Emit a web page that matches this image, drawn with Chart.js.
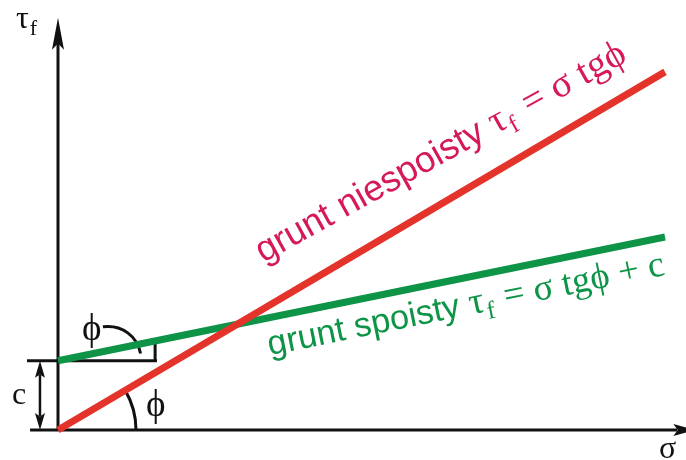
<!DOCTYPE html>
<html>
<head>
<meta charset="utf-8">
<script src="https://cdn.jsdelivr.net/npm/chart.js@4/dist/chart.umd.min.js"></script>
<style>
html,body{margin:0;padding:0;background:#fff;}
#c{display:block;}
</style>
</head>
<body>
<canvas id="c" width="686" height="460"></canvas>
<script>
// ---- data (schematic Mohr–Coulomb envelopes) ----
const sigma = [0, 10];                 // normal stress σ
const tauNonCohesive = [0, 5.9];       // grunt niespoisty: τf = σ tgφ
const tauCohesive = [1.14, 3.18];      // grunt spoisty:   τf = σ tgφ + c
const cohesion = tauCohesive[0];       // c

const RED = '#e3332a', GREEN = '#0e9447', RED_TXT = '#d6195a', GREEN_TXT = '#0e9447', INK = '#111111';
const SANS = '"Liberation Sans", Arial, sans-serif';
const SERIF = '"Liberation Serif", "Times New Roman", serif';

function toPts(xs, ys){ return xs.map((x,i)=>({x:x, y:ys[i]})); }

function arrowHead(ctx, tx, ty, ang, len, hw){
  ctx.save(); ctx.translate(tx,ty); ctx.rotate(ang);
  ctx.beginPath(); ctx.moveTo(0,0); ctx.lineTo(-len,-hw); ctx.lineTo(-len*0.8,0); ctx.lineTo(-len,hw); ctx.closePath(); ctx.fill();
  ctx.restore();
}
function runs(ctx, x, y, angDeg, parts, color){
  ctx.save(); ctx.translate(x,y); ctx.rotate(-angDeg*Math.PI/180);
  ctx.fillStyle = color; ctx.textBaseline='alphabetic'; ctx.textAlign='left';
  let cx = 0;
  for (const p of parts){ ctx.font = p.f; ctx.fillText(p.t, cx + (p.dx||0), p.dy||0); cx += ctx.measureText(p.t).width + (p.dx||0) + (p.g||0); }
  ctx.restore();
}

const schematic = {
  id:'schematic',
  beforeDatasetsDraw(chart){
    const ctx = chart.ctx, X = chart.scales.x, Y = chart.scales.y;
    const px = v=>X.getPixelForValue(v), py = v=>Y.getPixelForValue(v);
    const ox = px(0), oy = py(0);
    ctx.save();
    ctx.strokeStyle = INK; ctx.fillStyle = INK; ctx.lineWidth = 3; ctx.lineCap='butt';
    // sigma axis
    ctx.beginPath(); ctx.moveTo(px(-0.46), oy); ctx.lineTo(px(10.2), oy); ctx.stroke();
    arrowHead(ctx, px(10.5), oy, 0, 22, 6);
    // tau axis
    ctx.beginPath(); ctx.moveTo(ox, oy+1); ctx.lineTo(ox, py(6.6)); ctx.stroke();
    arrowHead(ctx, ox, py(6.79), -Math.PI/2, 32, 6);
    // cohesion reference line + tick
    const cy = py(cohesion);
    ctx.beginPath(); ctx.moveTo(px(-0.51), cy); ctx.lineTo(px(1.63), cy); ctx.stroke();
    ctx.beginPath(); ctx.moveTo(px(1.6), cy); ctx.lineTo(px(1.6), py(cohesion+0.32)); ctx.stroke();
    // c dimension arrow
    const ax = px(-0.297);
    ctx.lineWidth = 2.5;
    ctx.beginPath(); ctx.moveTo(ax, cy+14); ctx.lineTo(ax, oy-14); ctx.stroke();
    arrowHead(ctx, ax, cy, -Math.PI/2, 17, 5);
    arrowHead(ctx, ax, oy, Math.PI/2, 17, 5);
    // angle arc at origin
    const angR = Math.atan2(py(tauNonCohesive[1])-oy, px(sigma[1])-ox);
    ctx.lineWidth = 3;
    ctx.beginPath(); ctx.arc(ox, oy, 78, angR, 0); ctx.stroke();
    // leader curve for upper phi
    ctx.beginPath(); ctx.moveTo(px(0.74), py(1.70)); ctx.bezierCurveTo(px(1.05), py(1.74), px(1.30), py(1.55), px(1.36), py(1.26)); ctx.stroke();
    ctx.restore();
  },
  afterDatasetsDraw(chart){
    const ctx = chart.ctx, X = chart.scales.x, Y = chart.scales.y;
    const px = v=>X.getPixelForValue(v), py = v=>Y.getPixelForValue(v);
    ctx.save();
    ctx.fillStyle = INK; ctx.textBaseline='alphabetic';
    // axis titles
    runs(ctx, 16, 28, 0, [{t:'τ', f:'32px '+SERIF},{t:'f', f:'22px '+SERIF, dy:7, dx:1}], INK);
    ctx.font = '32px '+SERIF; ctx.fillText('σ', 659, 458);
    ctx.fillText('c', 12, 404);
    ctx.font = '37px '+SERIF;
    ctx.fillText('ϕ', 146, 416);
    ctx.fillText('ϕ', 82, 340);
    // line labels
    runs(ctx, px(3.38), py(2.75), 29, [
      {t:'grunt niespoisty ', f:'36.5px '+SANS},
      {t:'τ', f:'39px '+SERIF},
      {t:'f', f:'25px '+SERIF, dy:8, dx:1},
      {t:' = σ tgϕ', f:'39px '+SERIF, dx:4}
    ], RED_TXT);
    runs(ctx, px(3.49), py(1.23), 11.5, [
      {t:'grunt spoisty ', f:'34.5px '+SANS},
      {t:'τ', f:'38px '+SERIF},
      {t:'f', f:'25px '+SERIF, dy:8, dx:1},
      {t:' = σ tgϕ + c', f:'37px '+SERIF, dx:2}
    ], GREEN_TXT);
    ctx.restore();
  }
};

new Chart(document.getElementById('c'), {
  type:'line',
  data:{ datasets:[
    {data: toPts(sigma, tauNonCohesive), borderColor: RED, borderWidth: 7, pointRadius: 0, fill:false, tension:0},
    {data: toPts(sigma, tauCohesive), borderColor: GREEN, borderWidth: 7, pointRadius: 0, fill:false, tension:0}
  ]},
  options:{
    responsive:false, animation:false, devicePixelRatio:1,
    layout:{padding:0},
    plugins:{legend:{display:false}, tooltip:{enabled:false}},
    scales:{
      x:{type:'linear', display:false, min:-58/60.7, max:628/60.7},
      y:{type:'linear', display:false, min:-30/60.7, max:430/60.7}
    }
  },
  plugins:[schematic]
});
</script>
</body>
</html>
